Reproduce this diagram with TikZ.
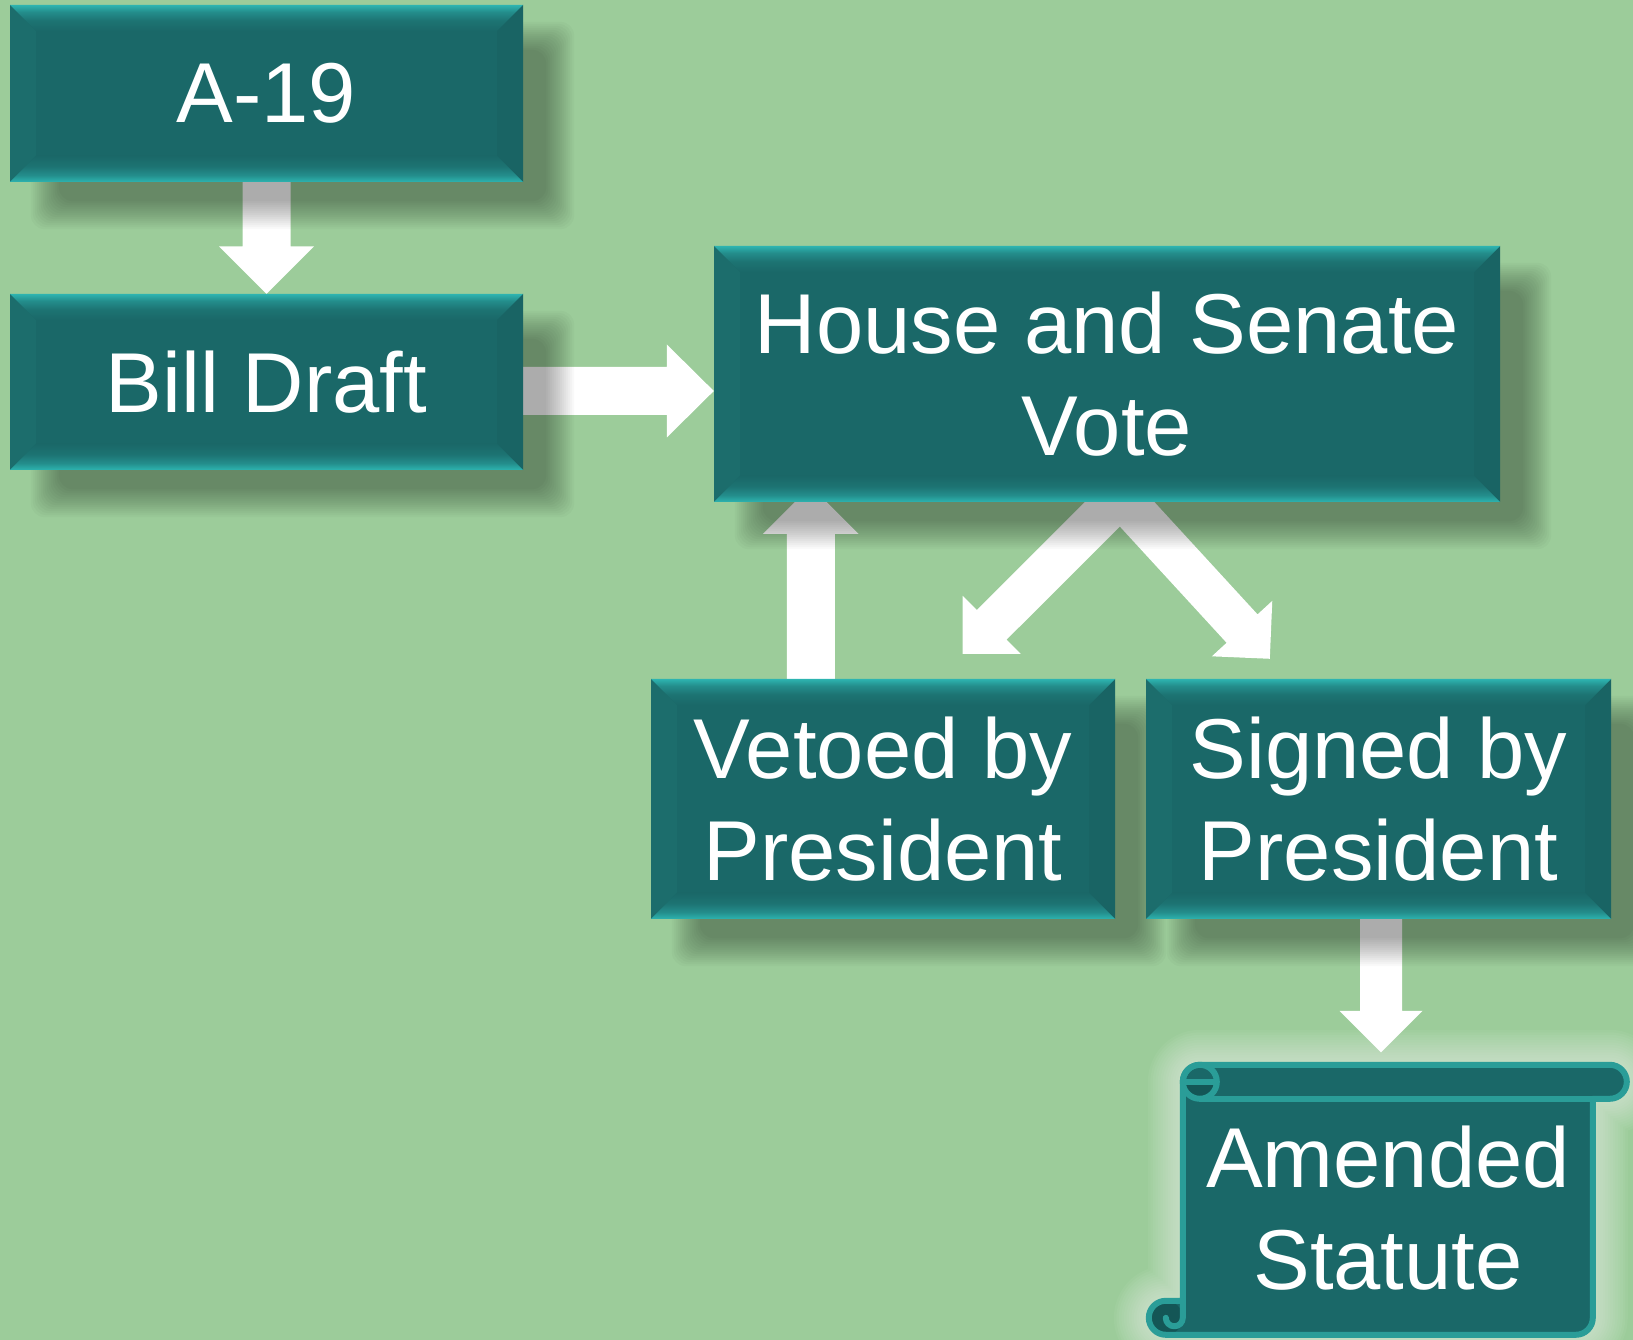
\documentclass[tikz,border=0pt]{standalone}
\usepackage{fontspec}
\setmainfont{Liberation Sans}
\usetikzlibrary{calc}
\definecolor{bgcol}{RGB}{156,204,154}
\definecolor{face}{RGB}{26,104,104}
\definecolor{bright}{RGB}{45,180,176}
\definecolor{leftc}{RGB}{28,109,108}
\definecolor{rightc}{RGB}{25,100,100}
\definecolor{scrollline}{RGB}{42,157,152}
\definecolor{curldark}{RGB}{20,86,86}
\colorlet{btone}{face!85!bright}
\colorlet{bttwo}{face!50!bright}
\pgfdeclareverticalshading{bevtop}{100bp}{color(0bp)=(face); color(25bp)=(face); color(45bp)=(btone); color(62bp)=(bttwo); color(75bp)=(bright); color(100bp)=(bright)}
\pgfdeclareverticalshading{bevbot}{100bp}{color(0bp)=(bright); color(25bp)=(bright); color(38bp)=(bttwo); color(55bp)=(btone); color(75bp)=(face); color(100bp)=(face)}
\pgfdeclarelayer{bglayer}
\pgfdeclarelayer{arrowlayer}
\pgfdeclarelayer{shadowlayer}
\pgfsetlayers{bglayer,arrowlayer,shadowlayer,main}
% block arrow: start, tip, shaft half width, head half width, head length
\newcommand\blockarrow[5]{%
  \coordinate (bahead) at ($(#2)!#5pt!(#1)$);
  \fill[white]
    ($(#1)!#3pt!90:(#2)$) --
    ($(bahead)!#3pt!-90:(#1)$) --
    ($(bahead)!#4pt!-90:(#1)$) --
    (#2) --
    ($(bahead)!#4pt!90:(#1)$) --
    ($(bahead)!#3pt!90:(#1)$) --
    ($(#1)!#3pt!-90:(#2)$) -- cycle;
}
% soft drop shadow of a named box
\newcommand\softshadow[1]{%
  \foreach \s in {15,13,...,-13} {
    \pgfmathsetmacro\sxa{36-\s}
    \pgfmathsetmacro\sya{-32-\s}
    \pgfmathsetmacro\sxb{36+\s}
    \pgfmathsetmacro\syb{-32+\s}
    \fill[black, opacity=0.0235, rounded corners=14pt]
      ($(#1.south west)+(\sxa,\sya)$) rectangle ($(#1.north east)+(\sxb,\syb)$);
  }
}
\newcommand\scrollsil{(37,239) -- (37,20) arc[start angle=180,end angle=270,radius=17] -- (464,3) arc[start angle=270,end angle=450,radius=17] -- (447,37) -- (447,256) arc[start angle=0,end angle=90,radius=17] -- (20,273) arc[start angle=90,end angle=270,radius=17] -- cycle}
\tikzset{
  bigtext/.style={text=white, font=\fontsize{85}{102}\selectfont, align=center},
  bevelbox/.style={rectangle, inner sep=0pt, fill=face, bigtext,
    path picture={
      \fill[leftc] (path picture bounding box.north west) -- ($(path picture bounding box.north west)+(26,-26)$) -- ($(path picture bounding box.south west)+(26,26)$) -- (path picture bounding box.south west) -- cycle;
      \fill[rightc] (path picture bounding box.north east) -- ($(path picture bounding box.north east)+(-26,-26)$) -- ($(path picture bounding box.south east)+(-26,26)$) -- (path picture bounding box.south east) -- cycle;
      \shade[shading=bevtop] (path picture bounding box.north west) -- (path picture bounding box.north east) -- ($(path picture bounding box.north east)+(-26,-26)$) -- ($(path picture bounding box.north west)+(26,-26)$) -- cycle;
      \shade[shading=bevbot] (path picture bounding box.south west) -- (path picture bounding box.south east) -- ($(path picture bounding box.south east)+(-26,26)$) -- ($(path picture bounding box.south west)+(26,26)$) -- cycle;
    }},
  scrollstroke/.style={scrollline, line width=6pt, line join=round}
}
\begin{document}
\begin{tikzpicture}[x=1pt,y=1pt]
\useasboundingbox (0,0) rectangle (1633,1340);
\begin{pgfonlayer}{bglayer}
  \fill[bgcol] (0,0) rectangle (1633,1340);
\end{pgfonlayer}

% boxes
\node[bevelbox, minimum width=513pt, minimum height=177pt] (a19) at (266.5,1246.5) {A-19};
\node[bevelbox, minimum width=513pt, minimum height=176pt] (bill) at (266.5,958) {Bill Draft};
\node[bevelbox, minimum width=786pt, minimum height=256pt] (house) at (1107,966) {House and Senate\\Vote};
\node[bevelbox, minimum width=464pt, minimum height=240pt] (veto) at (883,541) {Vetoed by\\President};
\node[bevelbox, minimum width=465pt, minimum height=240pt] (sign) at (1378.5,541) {Signed by\\President};

\begin{pgfonlayer}{shadowlayer}
  \softshadow{a19}
  \softshadow{bill}
  \softshadow{house}
  \softshadow{veto}
  \softshadow{sign}
\end{pgfonlayer}

% scroll
\node[rectangle, inner sep=0pt, minimum width=484pt, minimum height=276pt] (statute) at (1388,140) {};
\begin{scope}[shift={(statute.north west)}, yscale=-1]
  \fill[face] \scrollsil;
  \fill[curldark] (37,20) -- (71,20) arc[start angle=0,end angle=180,radius=17] -- cycle;
  \fill[curldark] (20,256) circle[radius=17];
  \draw[scrollstroke] \scrollsil;
  \draw[scrollstroke] (54,20) circle[radius=17];
  \draw[scrollstroke] (37,20) -- (71,20);
  \draw[scrollstroke] (54,37) -- (447,37);
  \draw[scrollstroke, line cap=round] (37,239) -- (37,256) arc[start angle=0,end angle=180,radius=8.5];
\end{scope}
\node[bigtext] (statutetext) at ($(statute.center)+(0,-8)$) {Amended\\Statute};

% arrows and glow
\begin{pgfonlayer}{arrowlayer}
  \begin{scope}[shift={(statute.north west)}, yscale=-1]
    \foreach \k in {1,...,14} {
      \pgfmathsetmacro\lw{\k*5}
      \draw[white, opacity=0.042, line width=\lw pt, line join=round] \scrollsil;
    }
  \end{scope}
  \coordinate (adS) at ($(a19.south)+(0,2)$);
  \blockarrow{adS}{bill.north}{24}{47.5}{47.5}
  \coordinate (bhS) at ($(bill.east)+(-2,-9)$);
  \coordinate (bhT) at (house.west |- bhS);
  \blockarrow{bhS}{bhT}{24}{46.5}{47}
  \coordinate (upS) at ($(veto.north west)+(160,-2)$);
  \coordinate (upT) at ($(upS |- house.south)+(0,16)$);
  \blockarrow{upS}{upT}{24}{47.75}{47.75}
  \coordinate (chS) at ($(house.south)+(13.5,6)$);
  \coordinate (chL) at ($(veto.north east)+(-152.5,25)$);
  \coordinate (chR) at ($(sign.north west)+(124,20)$);
  \blockarrow{chS}{chL}{21}{41}{41}
  \blockarrow{chS}{chR}{21}{41}{41}
  \coordinate (stS) at ($(sign.south)+(2.5,2)$);
  \coordinate (stT) at ($(stS |- statute.north)+(0,9.5)$);
  \blockarrow{stS}{stT}{21}{41.5}{41.5}
\end{pgfonlayer}
\end{tikzpicture}
\end{document}
